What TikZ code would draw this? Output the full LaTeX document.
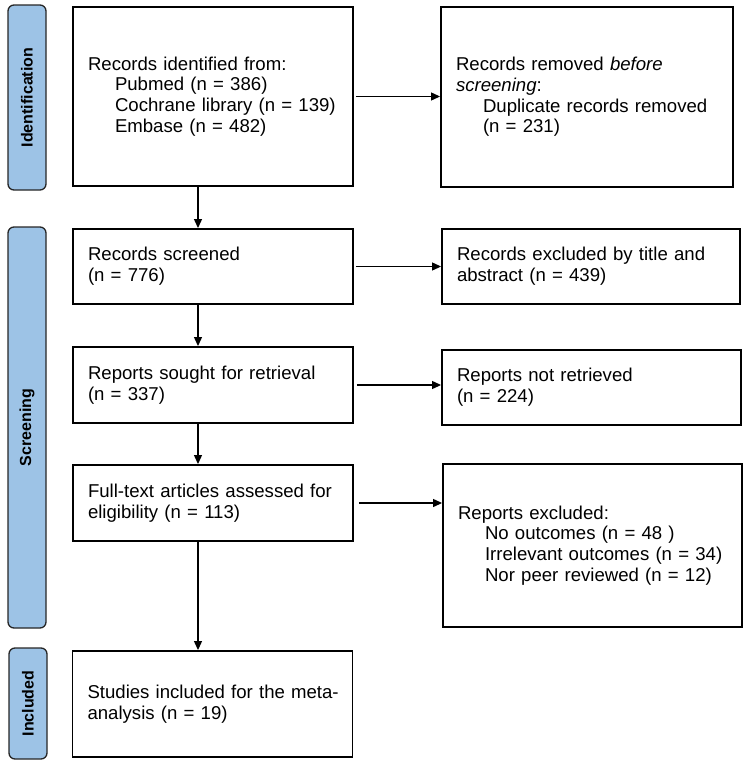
\documentclass[tikz,border=0pt]{standalone}
\usepackage{fontspec}
\setmainfont{Liberation Sans}
\usetikzlibrary{arrows.meta}
\definecolor{sideblue}{RGB}{157,195,230}
\begin{document}
\begin{tikzpicture}[x=1pt,y=-1pt,
  box/.style={draw=black,line width=1.9pt,inner xsep=15pt,inner ysep=0pt,align=left,
    font=\fontsize{18.6}{20.7}\selectfont,anchor=center},
  side/.style={draw=black!85,line width=1.3pt,fill=sideblue,rounded corners=6pt,
    minimum width=38pt,inner sep=0pt},
  sidetext/.style={rotate=90,font=\bfseries\fontsize{16}{19}\selectfont},
  arr/.style={line width=1.2pt,-{Triangle[length=9pt,width=8pt]}}]
\useasboundingbox (0,0) rectangle (745,763);
% side bars
\node[side,minimum height=185pt] (sid) at (27,97.5) {};
\node[sidetext] at (sid.center) {Identification};
\node[side,minimum height=401pt] (sscr) at (27,427.5) {};
\node[sidetext] at (sscr.center) {Screening};
\node[side,minimum height=111pt] (sinc) at (28,703.5) {};
\node[sidetext] at (sinc.center) {Included};
% boxes
\newcommand{\ind}{\hspace*{27pt}}
\node[box,text width=250pt,minimum height=179pt] (b1) at (213,96.5)
  {Records identified from:\\ \ind Pubmed (n = 386)\\ \ind Cochrane library (n = 139)\\ \ind Embase (n = 482)};
\node[box,text width=262pt,minimum height=180pt] (b2) at (587,97)
  {Records removed \textit{before}\\ \textit{screening}:\\ \ind Duplicate records removed\\ \ind (n = 231)};
\node[box,text width=250pt,minimum height=75pt] (scr) at (213,266.5)
  {Records screened\\ (n = 776)};
\node[box,text width=268pt,minimum height=75pt] (exc) at (591,266.5)
  {Records excluded by title and\\ abstract (n = 439)};
\node[box,text width=250pt,minimum height=76pt] (sou) at (213,385)
  {Reports sought for retrieval\\ (n = 337)};
\node[box,text width=269pt,minimum height=75pt] (nr) at (591.5,387.5)
  {Reports not retrieved\\ (n = 224)};
\node[box,text width=250pt,minimum height=76pt] (ft) at (213,503)
  {\mbox{Full-text articles assessed for}\\ eligibility (n = 113)};
\node[box,text width=269pt,minimum height=163pt] (rex) at (592.5,545.5)
  {Reports excluded:\\ \ind No outcomes (n = 48 )\\ \ind Irrelevant outcomes (n = 34)\\ \ind Nor peer reviewed (n = 12)};
\node[box,text width=250pt,minimum height=106pt] (stu) at (212.5,704)
  {\mbox{Studies included for the meta-}\\ analysis (n = 19)};
% connectors
\coordinate (vx) at (198,0);
\draw[arr] (b1.south -| vx) -- (scr.north -| vx);
\draw[arr] (scr.south -| vx) -- (sou.north -| vx);
\draw[arr] (sou.south -| vx) -- (ft.north -| vx);
\draw[arr] (ft.south -| vx) -- (stu.north -| vx);
\draw[arr,shorten <=2pt] (b1.east) -- (b1.east -| b2.west);
\draw[arr,shorten <=2pt] (scr.east) -- (scr.east -| exc.west);
\draw[arr,shorten <=3pt] (sou.east) -- (sou.east -| nr.west);
\draw[arr,shorten <=5pt] (ft.east) -- (ft.east -| rex.west);
\end{tikzpicture}
\end{document}
